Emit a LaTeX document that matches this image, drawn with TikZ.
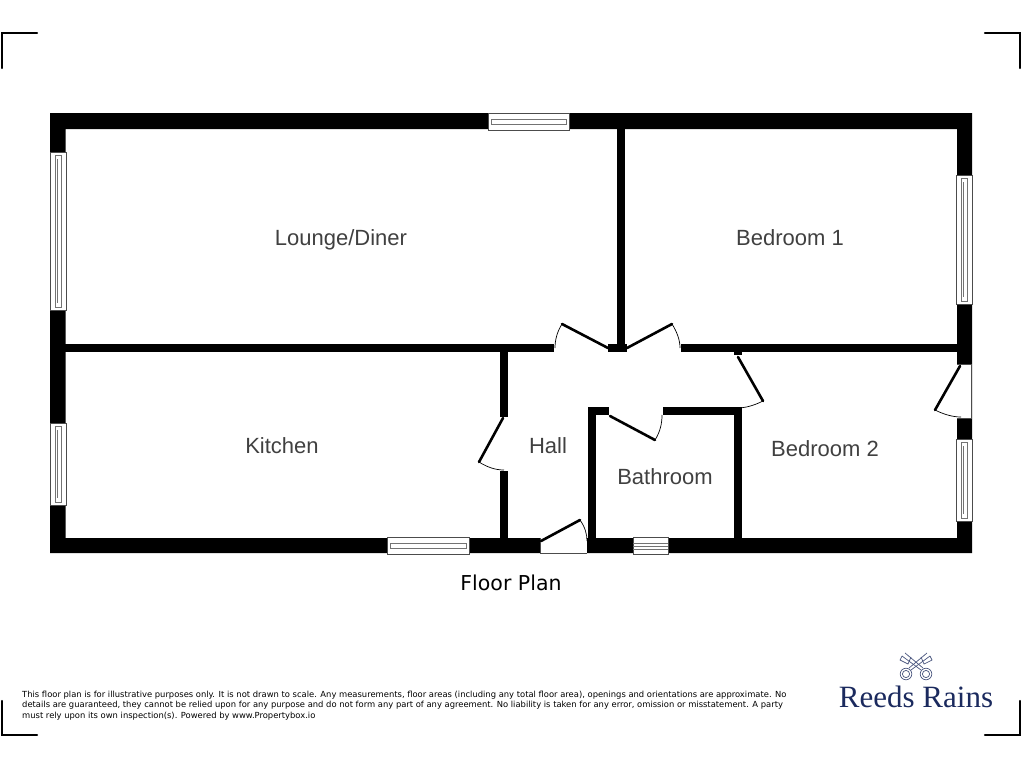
\documentclass[tikz,border=0pt]{standalone}
\usepackage{fontspec}
\setmainfont{Liberation Sans}
\newfontfamily\notefont{DejaVu Sans}
\newfontfamily\logofont{Liberation Serif}
\definecolor{labelgrey}{HTML}{404040}
\definecolor{logonavy}{HTML}{1B2A5E}
\tikzset{
  wallfill/.style={fill=black,draw=none},
  roomlabel/.style={anchor=base,text=labelgrey,font=\fontsize{22}{26}\selectfont,inner sep=0},
  doorleaf/.style={line width=2.6pt,line cap=round},
  doorswing/.style={line width=.7pt},
  gapfill/.style={fill=white,draw=black!70,line width=.7pt},
  paneline/.style={draw=black!55,line width=1pt},
  framebox/.style={fill=white,draw=black!70,line width=.9pt},
  cropmark/.style={line width=2.4pt,line cap=round},
  keyline/.style={draw=logonavy!80,line width=.7pt}
}
\begin{document}
\begin{tikzpicture}[x=1pt,y=-1pt]
      \useasboundingbox (0,0) rectangle (1024,768);
      % crop marks
      \draw[cropmark] (2,68) -- (2,33) -- (37,33);
      \draw[cropmark] (985,33) -- (1020,33) -- (1020,68);
      \draw[cropmark] (2,701) -- (2,735) -- (37,735);
      \draw[cropmark] (985,735) -- (1020,735) -- (1020,701);
      % outer walls
      \fill[wallfill,even odd rule]
        (50,113) rectangle (972,553) (65.5,129) rectangle (957,538);
      % inner walls
      \fill[wallfill] (65,344) rectangle (554,352);
      \fill[wallfill] (608,344) rectangle (627,352);
      \fill[wallfill] (681,344) rectangle (957,352);
      \fill[wallfill] (617,129) rectangle (625,344);
      \fill[wallfill] (734,352) rectangle (742,355);
      \fill[wallfill] (500,352) rectangle (508,417);
      \fill[wallfill] (500,471) rectangle (508,538);
      \fill[wallfill] (588,407) rectangle (596,538);
      \fill[wallfill] (588,407) rectangle (609,415);
      \fill[wallfill] (663,407) rectangle (742,415);
      \fill[wallfill] (734,407) rectangle (742,538);
      % door gaps in the outer wall
      \fill[white] (540,537) rectangle (587,553);
      \draw[gapfill] (540,538) -- (540,553) -- (587,553);
      \fill[white] (957,364) rectangle (971.5,418);
      \draw[gapfill] (957,364) -- (971.5,364) -- (971.5,418) -- (957,418);
      % doors
      \draw[doorleaf] (608,348) -- (562,324);
      \draw[doorswing] (562,324) .. controls (557,332) and (555,340) .. (555,348);
      \draw[doorleaf] (627,348) -- (672,324);
      \draw[doorswing] (672,324) .. controls (677,332) and (680,340) .. (680,348);
      \draw[doorleaf] (738,357) -- (763,401);
      \draw[doorswing] (763,401) .. controls (755,405) and (746,408) .. (737,408);
      \draw[doorleaf] (610,416) -- (655,440);
      \draw[doorswing] (655,440) .. controls (660,432) and (662,424) .. (662,415);
      \draw[doorleaf] (503,418) -- (479,462);
      \draw[doorswing] (479,462) .. controls (487,467) and (495,470) .. (504,470);
      \draw[doorleaf] (541,541) -- (580,520);
      \draw[doorswing] (580,520) .. controls (585,527) and (587,534) .. (587,541);
      \draw[doorleaf] (960,366) -- (935,410);
      \draw[doorswing] (935,410) .. controls (943,414) and (952,417) .. (961,417);
      % windows along the top and bottom
      \foreach \xa/\xb/\ya/\yb/\yp/\yq in {488/569/113/130/119.5/124,387/469/537/554/543/548}{
        \draw[framebox] (\xa,\ya) rectangle (\xb,\yb);
        \draw[paneline,line width=.8pt] (\xa+3,\yp) rectangle (\xb-3,\yq);
      }
      \draw[framebox] (633,537) rectangle (668,554);
      \draw[paneline] (633,543) -- (668,543) (633,546) -- (668,546) (633,549) -- (668,549);
      % windows along the sides
      \foreach \xa/\xb/\ya/\yb/\xp/\xq in {50/66/152/310/55/61,50/66/423/505/55/61,956/972/175/304/961/967,956/972/439/521/961/967}{
        \draw[framebox] (\xa,\ya) rectangle (\xb,\yb);
        \draw[paneline,line width=.8pt] (\xp,\ya+3) rectangle (\xq,\yb-3);
        \draw[paneline,line width=.6pt] (\xp+2,\ya+7) -- (\xp+2,\yb-7);
      }
      % labels
      \node[roomlabel] (lounge) at (341,245) {Lounge/Diner};
      \node[roomlabel] (bedroomone) at (790,245) {Bedroom 1};
      \node[roomlabel] (kitchen) at (282,453) {Kitchen};
      \node[roomlabel] (hall) at (548,453) {Hall};
      \node[roomlabel] (bathroom) at (665,484) {Bathroom};
      \node[roomlabel] (bedroomtwo) at (825,456) {Bedroom 2};
      \node[anchor=base,inner sep=0,font=\notefont\fontsize{20.5}{24}\selectfont] (title) at (511,590) {Floor Plan};
      \node[anchor=north west,inner sep=0,align=left,font=\notefont\fontsize{8.38}{10.7}\selectfont] (note) at (22,690.5)
        {This floor plan is for illustrative purposes only. It is not drawn to scale. Any measurements, floor areas (including any total floor area), openings and orientations are approximate. No\\
         details are guaranteed, they cannot be relied upon for any purpose and do not form any part of any agreement. No liability is taken for any error, omission or misstatement. A party\\
         must rely upon its own inspection(s). Powered by www.Propertybox.io};
      % logo
      \node[inner sep=0,text=logonavy,font=\logofont\fontsize{31}{34}\selectfont] (logo) at (916,697) {Reeds Rains};
      \foreach \mx/\sgn in {906/1,926/-1}{
        \draw[keyline] (\mx,674) circle (5.8) (\mx,674) circle (3.6);
        \draw[keyline] (\mx+3*\sgn,668) -- (\mx+21*\sgn,653) (\mx+5*\sgn,670) -- (\mx+24*\sgn,656);
        \draw[keyline] (\mx+15*\sgn,657) -- (\mx+18*\sgn,664) -- (\mx+26*\sgn,660) -- (\mx+24*\sgn,656);
      }
    \end{tikzpicture}
\end{document}
